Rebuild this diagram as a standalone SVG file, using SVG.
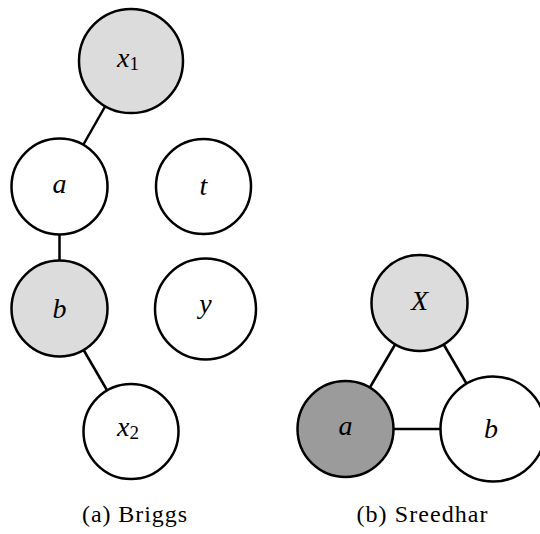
<svg xmlns="http://www.w3.org/2000/svg" width="540" height="534" viewBox="0 0 540 534">
  <style>
    .edge { stroke: #000; stroke-width: 2.5; fill: none; }
    .node { stroke: #000; stroke-width: 2.5; }
    .white { fill: #ffffff; }
    .light { fill: #dcdcdc; }
    .dark { fill: #9b9b9b; }
    .lbl { font-family: "Liberation Serif", "DejaVu Serif", serif; font-style: italic; font-size: 28px; text-anchor: middle; fill: #000; }
    .sub { font-style: normal; font-size: 19px; }
    .cap { font-family: "Liberation Serif", "DejaVu Serif", serif; font-size: 24px; text-anchor: middle; fill: #000; }
  </style>
  <rect width="540" height="534" fill="#ffffff"/>

  <!-- connectors, drawn center to center underneath the nodes -->
  <g id="edges">
    <line class="edge" x1="131" y1="61" x2="59.5" y2="186.5"/>
    <line class="edge" x1="59.5" y1="186.5" x2="59.5" y2="308.5"/>
    <line class="edge" x1="59.5" y1="308.5" x2="131" y2="431.5"/>
    <line class="edge" x1="419.5" y1="303" x2="345.5" y2="429"/>
    <line class="edge" x1="419.5" y1="303" x2="493" y2="429"/>
    <line class="edge" x1="345.5" y1="429" x2="493" y2="429"/>
  </g>

  <!-- (a) Briggs -->
  <g id="briggs-x1">
    <circle class="node light" cx="131" cy="61" r="52"/>
    <text class="lbl" x="128" y="66.5"><tspan>x</tspan><tspan class="sub" dy="3">1</tspan></text>
  </g>
  <g id="briggs-a">
    <circle class="node white" cx="59.5" cy="186.5" r="48"/>
    <text class="lbl" x="59.5" y="192.5">a</text>
  </g>
  <g id="briggs-t">
    <circle class="node white" cx="203.5" cy="186.5" r="47.5"/>
    <text class="lbl" x="203.5" y="194.5">t</text>
  </g>
  <g id="briggs-b">
    <circle class="node light" cx="59.5" cy="308.5" r="48"/>
    <text class="lbl" x="59.5" y="317.5">b</text>
  </g>
  <g id="briggs-y">
    <circle class="node white" cx="205.5" cy="309" r="50.5"/>
    <text class="lbl" x="205.5" y="312.5">y</text>
  </g>
  <g id="briggs-x2">
    <circle class="node white" cx="131" cy="431.5" r="47.5"/>
    <text class="lbl" x="128" y="435.5"><tspan>x</tspan><tspan class="sub" dy="3">2</tspan></text>
  </g>

  <!-- (b) Sreedhar -->
  <g id="sreedhar-X">
    <circle class="node light" cx="419.5" cy="303" r="48"/>
    <text class="lbl" x="419.5" y="309.5">X</text>
  </g>
  <g id="sreedhar-a">
    <circle class="node dark" cx="345.5" cy="429" r="48"/>
    <text class="lbl" x="345.5" y="435">a</text>
  </g>
  <g id="sreedhar-b">
    <circle class="node white" cx="493" cy="429" r="52.5"/>
    <text class="lbl" x="491" y="438">b</text>
  </g>

  <!-- subfigure captions -->
  <g id="captions">
    <text class="cap" x="134.5" y="522" textLength="105" lengthAdjust="spacing">(a) Briggs</text>
    <text class="cap" x="422" y="522" textLength="131" lengthAdjust="spacing">(b) Sreedhar</text>
  </g>
</svg>
